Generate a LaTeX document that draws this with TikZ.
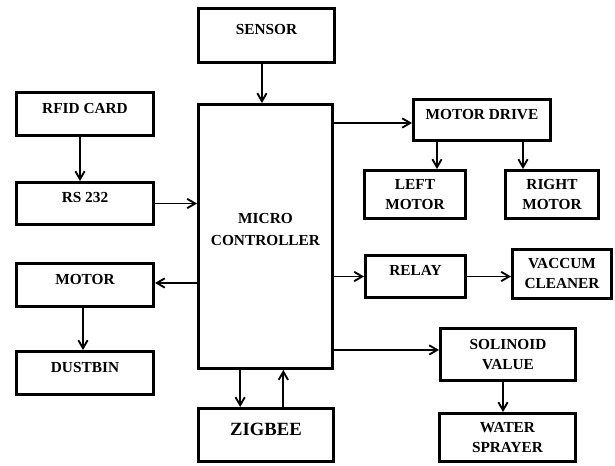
\documentclass[tikz,border=0pt]{standalone}
\usepackage{fontspec}
\setmainfont{Liberation Serif}
\usepackage{tikz}
\usetikzlibrary{arrows.meta}

\begin{document}
\begin{tikzpicture}[x=0.75pt, y=-0.75pt,
    block/.style={draw, line width=2.2pt, align=center, inner sep=0pt,
        font=\bfseries\fontsize{11.5}{15}\selectfont},
    uptext/.style={text depth=9pt},
    link/.style={-{Straight Barb[length=6pt,width=7pt]}, line width=1.4pt}]
    \useasboundingbox (0,0) rectangle (615,466);
    \node[block, uptext, minimum width=102pt, minimum height=40.5pt] (sensor) at (266.5,35.5) {SENSOR};
    \node[block, uptext, minimum width=102.75pt, minimum height=32.25pt] (rfid) at (85,114) {RFID CARD};
    \node[block, uptext, minimum width=102.75pt, minimum height=31.5pt] (rs) at (85,203.5) {RS 232};
    \node[block, uptext, minimum width=102.75pt, minimum height=32.25pt] (motor) at (85,285) {MOTOR};
    \node[block, uptext, minimum width=102.75pt, minimum height=32.25pt] (dustbin) at (85,373) {DUSTBIN};
    \node[block, text depth=10.5pt, minimum width=100.5pt, minimum height=198pt] (mc) at (265.5,236.5) {MICRO\\[1.5pt]CONTROLLER};
    \node[block, uptext, font=\bfseries\fontsize{14}{17}\selectfont, minimum width=101.25pt, minimum height=39.75pt] (zigbee) at (266,435) {ZIGBEE};
    \node[block, uptext, minimum width=102.75pt, minimum height=30.75pt] (mdrive) at (482,120) {MOTOR DRIVE};
    \node[block, minimum width=75.75pt, minimum height=36pt] (lmotor) at (415,194.5) {LEFT\\MOTOR};
    \node[block, minimum width=69.75pt, minimum height=36pt] (rmotor) at (552,194.5) {RIGHT\\MOTOR};
    \node[block, uptext, minimum width=75pt, minimum height=31.5pt] (relay) at (415.5,276.5) {RELAY};
    \node[block, minimum width=74.25pt, minimum height=36.75pt] (vacuum) at (562,274) {VACCUM\\CLEANER};
    \node[block, minimum width=101.25pt, minimum height=39pt] (solinoid) at (508,354.5) {SOLINOID\\VALUE};
    \node[block, minimum width=102pt, minimum height=36pt] (water) at (507.5,437.5) {WATER\\SPRAYER};

    \draw[link] ([xshift=-3.4pt]sensor.south) -- ([xshift=-3.4pt]sensor.south |- mc.north);
    \draw[link] ([xshift=-3.75pt]rfid.south) -- ([xshift=-3.75pt]rfid.south |- rs.north);
    \draw[link] (rs.east) -- (rs.east -| mc.west);
    \draw[link] ([yshift=1.5pt]motor.east -| mc.west) -- ([yshift=1.5pt]motor.east);
    \draw[link] ([xshift=-1.5pt]motor.south) -- ([xshift=-1.5pt]motor.south |- dustbin.north);
    \draw[link] ([xshift=-19pt]mc.south) -- ([xshift=-19pt]mc.south |- zigbee.north);
    \draw[link] ([xshift=13pt]zigbee.north) -- ([xshift=13pt]zigbee.north |- mc.south);
    \draw[link] ([yshift=-2.25pt]mdrive.west -| mc.east) -- ([yshift=-2.25pt]mdrive.west);
    \draw[link] ([xshift=16.5pt]lmotor.north |- mdrive.south) -- ([xshift=16.5pt]lmotor.north);
    \draw[link] ([xshift=-21.75pt]rmotor.north |- mdrive.south) -- ([xshift=-21.75pt]rmotor.north);
    \draw[link] (relay.west -| mc.east) -- (relay.west);
    \draw[link] (relay.east) -- (relay.east -| vacuum.west);
    \draw[link] ([yshift=3.4pt]solinoid.west -| mc.east) -- ([yshift=3.4pt]solinoid.west);
    \draw[link] ([xshift=-3.75pt]solinoid.south) -- ([xshift=-3.75pt]solinoid.south |- water.north);
\end{tikzpicture}
\end{document}
